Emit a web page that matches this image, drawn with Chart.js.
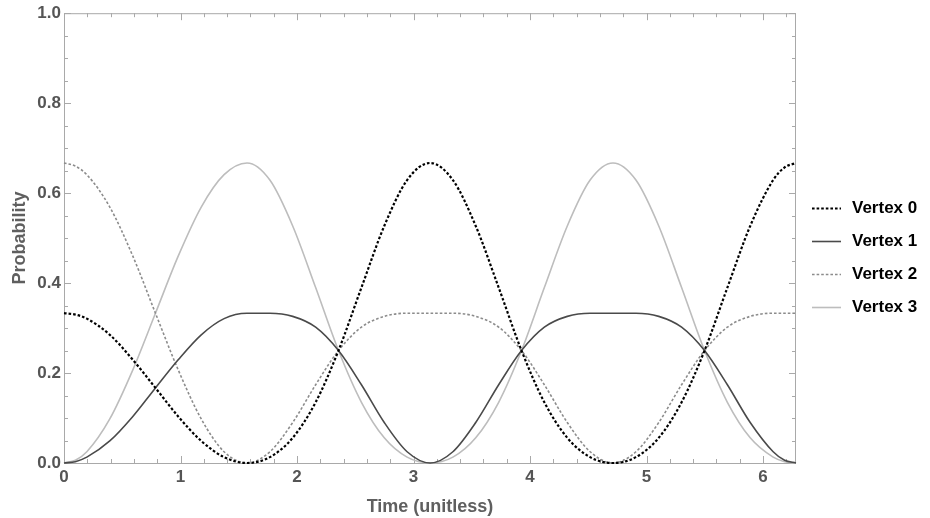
<!DOCTYPE html>
<html>
<head>
<meta charset="utf-8">
<script src="https://cdn.jsdelivr.net/npm/chart.js@4/dist/chart.umd.min.js"></script>
<style>
    body { margin: 0; background: #fff; }
    #wrap { width: 930px; height: 518px; }
</style>
</head>
<body>
<div id="wrap"><canvas id="probChart"></canvas></div>
<script>
// Vertex probabilities over one period

const times = [0, 0.098, 0.196, 0.393, 0.589, 0.785, 0.982, 1.178, 1.374, 1.571,
    1.767, 1.963, 2.160, 2.356, 2.553, 2.749, 2.945, 3.142,
    3.338, 3.534, 3.731, 3.927, 4.123, 4.320, 4.516, 4.712,
    4.909, 5.105, 5.301, 5.498, 5.694, 5.890, 6.087, 6.185, 6.283];

const vertex0 = [0.333, 0.330, 0.321, 0.285, 0.230, 0.167, 0.103, 0.049, 0.013, 0,
    0.013, 0.056, 0.135, 0.250, 0.390, 0.527, 0.629, 0.667,
    0.629, 0.527, 0.390, 0.250, 0.135, 0.056, 0.013, 0,
    0.013, 0.056, 0.135, 0.250, 0.390, 0.527, 0.629, 0.657, 0.667];

const vertex1 = [0, 0.003, 0.013, 0.049, 0.103, 0.167, 0.230, 0.285, 0.321, 0.333,
    0.333, 0.326, 0.302, 0.250, 0.174, 0.090, 0.025, 0,
    0.025, 0.090, 0.174, 0.250, 0.302, 0.326, 0.333, 0.333,
    0.333, 0.326, 0.302, 0.250, 0.174, 0.090, 0.025, 0.006, 0];

const vertex2 = [0.667, 0.660, 0.641, 0.569, 0.461, 0.333, 0.206, 0.098, 0.025, 0,
    0.025, 0.090, 0.174, 0.250, 0.302, 0.326, 0.333, 0.333,
    0.333, 0.326, 0.302, 0.250, 0.174, 0.090, 0.025, 0,
    0.025, 0.090, 0.174, 0.250, 0.302, 0.326, 0.333, 0.333, 0.333];

const vertex3 = [0, 0.006, 0.025, 0.098, 0.206, 0.333, 0.461, 0.569, 0.641, 0.667,
    0.629, 0.527, 0.390, 0.250, 0.135, 0.056, 0.013, 0,
    0.013, 0.056, 0.135, 0.250, 0.390, 0.527, 0.629, 0.667,
    0.629, 0.527, 0.390, 0.250, 0.135, 0.056, 0.013, 0.003, 0];

const seriesLabels = ['Vertex 0', 'Vertex 1', 'Vertex 2', 'Vertex 3'];
const xTickLabels = [0, 1, 2, 3, 4, 5, 6];
const yTickLabels = [0, 0.2, 0.4, 0.6, 0.8, 1.0];
const X_MAX = 6.283;

const FONT = '"Liberation Sans", Arial, sans-serif';

// ==================== HELPERS ====================

function toPoints(values) {
    return values.map((v, i) => ({ x: times[i], y: v }));
}

function makeDataset(label, values, color, width, dash) {
    return {
        label: label,
        data: toPoints(values),
        borderColor: color,
        borderWidth: width,
        borderDash: dash,
        pointRadius: 0,
        cubicInterpolationMode: 'monotone',
        fill: false,
        clip: false
    };
}

// Frame round the plot with inward ticks (Mathematica style)
const frameTicks = {
    id: 'frameTicks',
    beforeDatasetsDraw(chart) {
        const { ctx, chartArea: a, scales: { x, y } } = chart;
        ctx.save();
        ctx.strokeStyle = '#a9a9a9';
        ctx.lineWidth = 1;
        ctx.strokeRect(a.left + 0.5, a.top + 0.5, a.right - a.left - 1, a.bottom - a.top);

        ctx.beginPath();
        for (let i = 0; i * 0.2 <= X_MAX; i++) {
            const px = Math.round(x.getPixelForValue(i * 0.2)) + 0.5;
            const len = i % 5 === 0 ? 7 : 4;
            ctx.moveTo(px, a.bottom); ctx.lineTo(px, a.bottom - len);
            ctx.moveTo(px, a.top); ctx.lineTo(px, a.top + len);
        }
        for (let i = 0; i <= 20; i++) {
            const py = Math.round(y.getPixelForValue(i * 0.05)) + 0.5;
            const len = i % 4 === 0 ? 7 : 4;
            ctx.moveTo(a.left, py); ctx.lineTo(a.left + len, py);
            ctx.moveTo(a.right, py); ctx.lineTo(a.right - len, py);
        }
        ctx.stroke();
        ctx.restore();
    }
};

// Legend on the right, line sample + bold label
const sideLegend = {
    id: 'sideLegend',
    afterDraw(chart) {
        const { ctx } = chart;
        ctx.save();
        ctx.font = 'bold 17px ' + FONT;
        ctx.textBaseline = 'middle';
        ctx.textAlign = 'left';
        chart.data.datasets.forEach((ds, i) => {
            const cy = 208 + i * 33;
            ctx.strokeStyle = ds.borderColor;
            ctx.lineWidth = ds.borderWidth;
            ctx.setLineDash(ds.borderDash || []);
            ctx.beginPath();
            ctx.moveTo(812, cy + 0.5);
            ctx.lineTo(841, cy + 0.5);
            ctx.stroke();
            ctx.setLineDash([]);
            ctx.fillStyle = '#000';
            ctx.fillText(ds.label, 852, cy);
        });
        ctx.restore();
    }
};

// ==================== CHART ====================

const ctx = document.getElementById('probChart').getContext('2d');

new Chart(ctx, {
    type: 'line',
    data: {
        datasets: [
            makeDataset(seriesLabels[0], vertex0, '#000000', 2.2, [2.6, 2]),
            makeDataset(seriesLabels[1], vertex1, '#4a4a4a', 1.6, []),
            makeDataset(seriesLabels[2], vertex2, '#8c8c8c', 1.6, [2.6, 2]),
            makeDataset(seriesLabels[3], vertex3, '#bdbdbd', 1.6, [])
        ]
    },
    options: {
        responsive: true,
        maintainAspectRatio: false,
        animation: false,
        layout: { padding: { top: 10, right: 134, left: 0, bottom: 0 } },
        plugins: {
            legend: { display: false },
            tooltip: { enabled: false }
        },
        scales: {
            x: {
                type: 'linear',
                min: 0,
                max: X_MAX,
                afterBuildTicks: (scale) => { scale.ticks = xTickLabels.map(v => ({ value: v })); },
                afterFit: (scale) => { scale.height = 55; },
                grid: { display: false, drawTicks: false },
                border: { display: false },
                ticks: {
                    autoSkip: false,
                    maxRotation: 0,
                    padding: 4,
                    color: '#555555',
                    font: { family: FONT, size: 17, weight: 'bold' },
                    callback: (v) => String(v)
                },
                title: {
                    display: true,
                    text: 'Time (unitless)',
                    color: '#5f5f5f',
                    padding: { top: 2, bottom: 0 },
                    font: { family: FONT, size: 18, weight: 'bold' }
                }
            },
            y: {
                min: 0,
                max: 1,
                afterBuildTicks: (scale) => { scale.ticks = yTickLabels.map(v => ({ value: v })); },
                afterFit: (scale) => { scale.width = 64; },
                grid: { display: false, drawTicks: false },
                border: { display: false },
                ticks: {
                    padding: 3,
                    color: '#555555',
                    font: { family: FONT, size: 17, weight: 'bold' },
                    callback: (v) => Number(v).toFixed(1)
                },
                title: {
                    display: true,
                    text: 'Probability',
                    color: '#5f5f5f',
                    padding: { top: 9, bottom: 0 },
                    font: { family: FONT, size: 18, weight: 'bold' }
                }
            }
        }
    },
    plugins: [frameTicks, sideLegend]
});
</script>
</body>
</html>
